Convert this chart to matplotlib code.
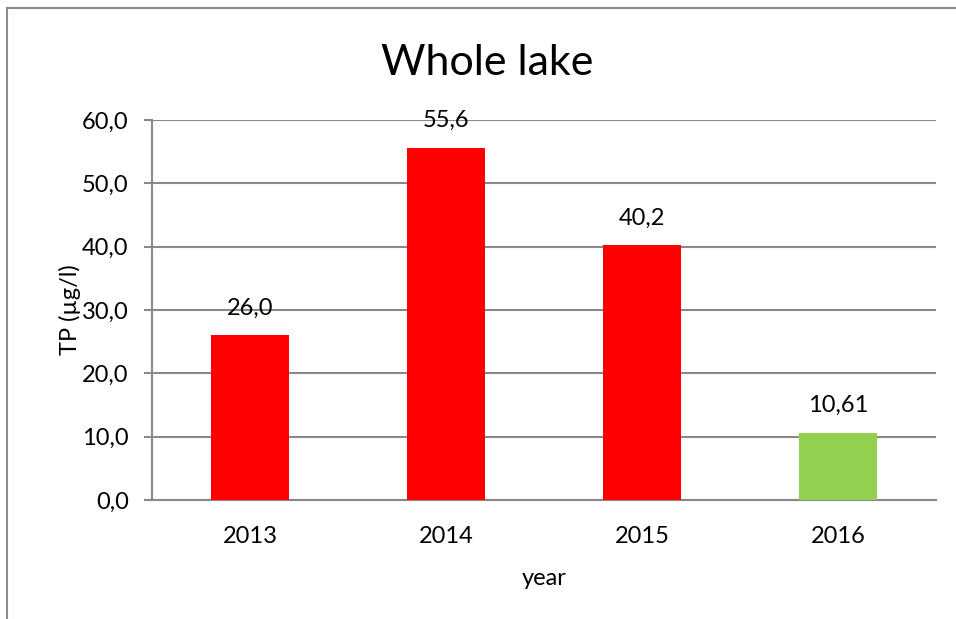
import matplotlib
matplotlib.use("Agg")
import matplotlib.pyplot as plt
from matplotlib.lines import Line2D

plt.rcParams['font.family'] = ['Lato', 'DejaVu Sans']

years = ["2013", "2014", "2015", "2016"]
tp_values = [26.0, 55.6, 40.2, 10.61]
value_labels = ["26,0", "55,6", "40,2", "10,61"]
bar_colors = ["#FF0000", "#FF0000", "#FF0000", "#92D050"]
y_ticks = [0, 10, 20, 30, 40, 50, 60]
y_tick_labels = ["0,0", "10,0", "20,0", "30,0", "40,0", "50,0", "60,0"]

W, H = 956, 619
fig = plt.figure(figsize=(W / 100, H / 100), dpi=100)
ax = fig.add_axes([152 / W, 119 / H, (936 - 152) / W, 380 / H])

grid_color = "#898989"
fs = 17
x = range(len(years))
ax.bar(x, tp_values, width=0.4, color=bar_colors, zorder=3)

ax.set_xlim(-0.5, len(years) - 0.5)
ax.set_ylim(0, 60)
ax.set_yticks(y_ticks)
ax.set_yticklabels(y_tick_labels, fontsize=fs)
ax.set_xticks(list(x))
ax.set_xticklabels(years, fontsize=fs)
ax.tick_params(axis='x', length=0, pad=19)
ax.tick_params(axis='y', length=5.8, width=1.5, color=grid_color, pad=11, direction='out')

ax.yaxis.grid(True, color=grid_color, linewidth=1.5, zorder=0)
ax.set_axisbelow(True)
for side in ("top", "right"):
    ax.spines[side].set_visible(False)
for side in ("left", "bottom"):
    ax.spines[side].set_color(grid_color)
    ax.spines[side].set_linewidth(1.5)

for xi, v, lab in zip(x, tp_values, value_labels):
    ax.annotate(lab, (xi, v), xytext=(0, 12), textcoords="offset points",
                ha="center", va="bottom", fontsize=fs)

ax.set_xlabel("year", fontsize=fs, labelpad=15)
ax.set_ylabel("TP (µg/l)", fontsize=fs, labelpad=1)
fig.text(487 / W, 1 - 63 / H, "Whole lake", ha="center", va="center", fontsize=31)

# chart frame (left and top edges)
fig.add_artist(Line2D([7 / W, 7 / W], [0, 1 - 8 / H], transform=fig.transFigure,
                      color="#8C8C8C", linewidth=1.5))
fig.add_artist(Line2D([7 / W, 1], [1 - 8 / H, 1 - 8 / H], transform=fig.transFigure,
                      color="#8C8C8C", linewidth=1.5))

fig.savefig("out.png", dpi=100)
